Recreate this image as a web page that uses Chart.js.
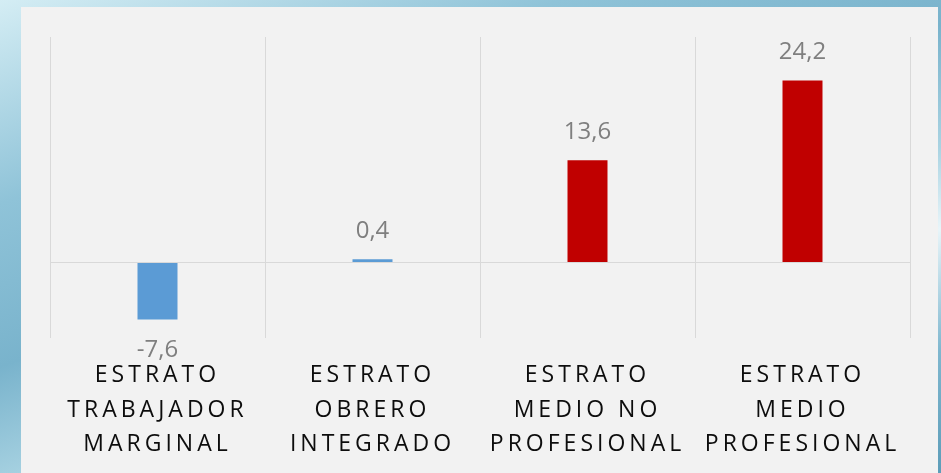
<!DOCTYPE html>
<html>
<head>
<meta charset="utf-8">
<script src="https://cdn.jsdelivr.net/npm/chart.js@4"></script>
<style>
    html, body { margin: 0; padding: 0; }
    body {
        width: 941px; height: 473px; overflow: hidden; position: relative;
        background: linear-gradient(160deg, #d4edf4 0%, #8fc3d8 25%, #79b3cc 45%, #a9d3e2 60%, #e8f5f9 70%, #7fb7cf 85%, #5d9db9 100%);
    }
    #panel {
        position: absolute; left: 21px; top: 7px; width: 917px; height: 476px;
        background: #f2f2f2;
    }
</style>
</head>
<body>
<div id="panel"><canvas id="canvaEstratos" width="917" height="476"></canvas></div>
<script>
const categorias = [
    ['ESTRATO', 'TRABAJADOR', 'MARGINAL'],
    ['ESTRATO', 'OBRERO', 'INTEGRADO'],
    ['ESTRATO', 'MEDIO NO', 'PROFESIONAL'],
    ['ESTRATO', 'MEDIO', 'PROFESIONAL']
];
const variaciones = [-7.6, 0.4, 13.6, 24.2];
const coloresBarras = ['#5b9bd5', '#5b9bd5', '#c00000', '#c00000'];

const espaciadoLetras = {
    id: 'espaciadoLetras',
    beforeDraw(chart) { chart.ctx.letterSpacing = '4px'; },
    beforeDatasetsDraw(chart) { chart.ctx.letterSpacing = '0px'; }
};

const etiquetasValores = {
    id: 'etiquetasValores',
    afterDatasetsDraw(chart) {
        const ctx = chart.ctx;
        const meta = chart.getDatasetMeta(0);
        ctx.save();
        ctx.letterSpacing = '0px';
        ctx.font = '24px "Open Sans"';
        ctx.fillStyle = '#7f7f7f';
        ctx.textAlign = 'center';
        ctx.textBaseline = 'middle';
        meta.data.forEach((bar, i) => {
            const v = variaciones[i];
            const texto = v.toFixed(1).replace('.', ',');
            const y = v >= 0 ? bar.y - 28 : bar.y + 31;
            ctx.fillText(texto, bar.x, y);
        });
        ctx.restore();
    }
};

new Chart(document.getElementById('canvaEstratos'), {
    type: 'bar',
    plugins: [espaciadoLetras, etiquetasValores],
    data: {
        labels: categorias,
        datasets: [{
            data: variaciones,
            backgroundColor: coloresBarras,
            barPercentage: 0.75,
            categoryPercentage: 0.248
        }]
    },
    options: {
        responsive: false,
        animation: false,
        layout: { padding: { left: 29, right: 28, top: 30, bottom: 0 } },
        plugins: {
            legend: { display: false },
            tooltip: { enabled: false }
        },
        scales: {
            x: {
                offset: true,
                border: { display: false },
                grid: { offset: true, color: '#d9d9d9', lineWidth: 1, drawTicks: false },
                ticks: {
                    color: '#0d0d0d',
                    font: { family: '"Open Sans"', size: 23, lineHeight: 1.5 },
                    padding: 21,
                    maxRotation: 0,
                    autoSkip: false
                }
            },
            y: {
                min: -10,
                max: 30,
                border: { display: false },
                grid: {
                    drawTicks: false,
                    color: (c) => c.tick && c.tick.value === 0 ? '#d9d9d9' : 'rgba(0,0,0,0)'
                },
                ticks: { display: false, stepSize: 10 }
            }
        }
    }
});
</script>
</body>
</html>
